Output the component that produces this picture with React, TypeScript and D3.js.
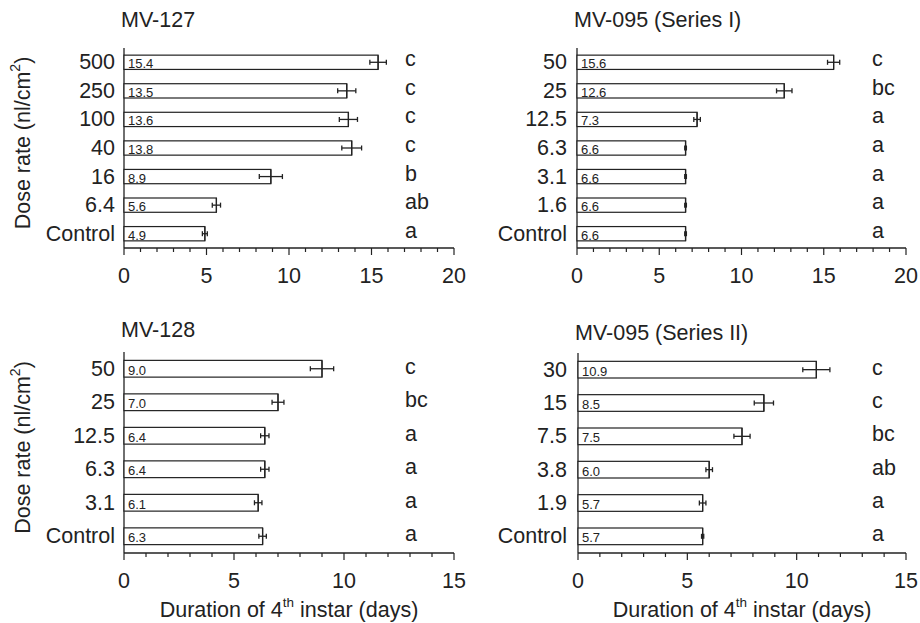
import React from "react";
import * as d3 from "d3";

// ---- data ----
const mv127Doses = ["500", "250", "100", "40", "16", "6.4", "Control"];
const mv127Means = [15.4, 13.5, 13.6, 13.8, 8.9, 5.6, 4.9];
const mv127Errors = [0.5, 0.55, 0.55, 0.6, 0.7, 0.25, 0.15];
const mv127Letters = ["c", "c", "c", "c", "b", "ab", "a"];

const mv095aDoses = ["50", "25", "12.5", "6.3", "3.1", "1.6", "Control"];
const mv095aMeans = [15.6, 12.6, 7.3, 6.6, 6.6, 6.6, 6.6];
const mv095aErrors = [0.37, 0.47, 0.2, 0.05, 0.05, 0.05, 0.05];
const mv095aLetters = ["c", "bc", "a", "a", "a", "a", "a"];

const mv128Doses = ["50", "25", "12.5", "6.3", "3.1", "Control"];
const mv128Means = [9.0, 7.0, 6.4, 6.4, 6.1, 6.3];
const mv128Errors = [0.53, 0.27, 0.19, 0.19, 0.17, 0.17];
const mv128Letters = ["c", "bc", "a", "a", "a", "a"];

const mv095bDoses = ["30", "15", "7.5", "3.8", "1.9", "Control"];
const mv095bMeans = [10.9, 8.5, 7.5, 6.0, 5.7, 5.7];
const mv095bErrors = [0.62, 0.44, 0.37, 0.15, 0.15, 0.05];
const mv095bLetters = ["c", "c", "bc", "ab", "a", "a"];

const topTicks = [0, 5, 10, 15, 20];
const bottomTicks = [0, 5, 10, 15];

const FONT = "'Liberation Sans', Arial, Helvetica, sans-serif";
const INK = "#222";
const FS = 21.5;

interface PanelProps {
  title: string;
  doses: string[];
  means: number[];
  errors: number[];
  letters: string[];
  xMax: number;
  majorTicks: number[];
  x0: number;
  x1: number;
  yTop: number;
  yBottom: number;
  labelX: number;
  letterX: number;
  titleY: number;
  letterDy: number;
  yTitle: boolean;
  xTitle: boolean;
}

function Panel(p: PanelProps) {
  const x = d3.scaleLinear().domain([0, p.xMax]).range([p.x0, p.x1]);
  const y = d3
    .scaleBand<string>()
    .domain(p.doses)
    .range([p.yTop, p.yBottom])
    .paddingInner(0.5)
    .paddingOuter(0.25);
  const minor = d3.range(0, p.xMax + 1, 1);
  const bh = y.bandwidth();
  const yMid = (p.yTop + p.yBottom) / 2;
  return (
    <g fontFamily={FONT} fill={INK}>
      <text x={p.x0 - 3} y={p.titleY} fontSize={FS} dominantBaseline="central">
        {p.title}
      </text>
      {/* axes */}
      <line x1={p.x0} x2={p.x0} y1={p.yTop} y2={p.yBottom} stroke={INK} strokeWidth={1.3} />
      <line x1={p.x0} x2={p.x1} y1={p.yBottom} y2={p.yBottom} stroke={INK} strokeWidth={1.3} />
      {minor.map((t) => (
        <line
          key={"m" + t}
          x1={x(t)}
          x2={x(t)}
          y1={p.yBottom}
          y2={p.yBottom + (p.majorTicks.includes(t) ? 7 : 4)}
          stroke={INK}
          strokeWidth={1.2}
        />
      ))}
      {p.majorTicks.map((t) => (
        <text
          key={"t" + t}
          x={x(t)}
          y={p.yBottom + 28}
          fontSize={FS}
          textAnchor="middle"
          dominantBaseline="central"
        >
          {t}
        </text>
      ))}
      {p.doses.map((d, i) => {
        const yc = (y(d) as number) + bh / 2;
        const v = p.means[i];
        const e = p.errors[i];
        return (
          <g key={d}>
            <rect
              x={x(0)}
              y={yc - bh / 2}
              width={x(v) - x(0)}
              height={bh}
              fill="#fff"
              stroke={INK}
              strokeWidth={1.2}
            />
            <line x1={x(v - e)} x2={x(v + e)} y1={yc} y2={yc} stroke={INK} strokeWidth={1.3} />
            <line x1={x(v - e)} x2={x(v - e)} y1={yc - 2.5} y2={yc + 2.5} stroke={INK} strokeWidth={1.3} />
            <line x1={x(v + e)} x2={x(v + e)} y1={yc - 2.5} y2={yc + 2.5} stroke={INK} strokeWidth={1.3} />
            <line x1={x(v)} x2={x(v)} y1={yc - bh / 2} y2={yc + bh / 2} stroke={INK} strokeWidth={1.3} />
            <text x={x(0) + 4} y={yc + 1.5} fontSize={13} dominantBaseline="central">
              {v.toFixed(1)}
            </text>
            <text x={p.labelX} y={yc} fontSize={FS} textAnchor="end" dominantBaseline="central">
              {d}
            </text>
            <text x={p.letterX} y={yc + p.letterDy} fontSize={FS} dominantBaseline="central">
              {p.letters[i]}
            </text>
          </g>
        );
      })}
      {p.yTitle && (
        <text
          transform={`translate(23,${yMid - 5}) rotate(-90)`}
          fontSize={FS}
          textAnchor="middle"
          dominantBaseline="central"
        >
          Dose rate (nl/cm<tspan fontSize={14} dy={-8}>2</tspan>
          <tspan dy={8}>)</tspan>
        </text>
      )}
      {p.xTitle && (
        <text
          x={(p.x0 + p.x1) / 2}
          y={p.yBottom + 57}
          fontSize={FS}
          textAnchor="middle"
          dominantBaseline="central"
        >
          Duration of 4<tspan fontSize={13.5} dy={-8}>th</tspan>
          <tspan dy={8}> instar (days)</tspan>
        </text>
      )}
    </g>
  );
}

export default function App() {
  return (
    <svg width={920} height={623} style={{ position: "absolute", left: 0, top: 0, background: "#fff" }}>
      <Panel
        title="MV-127"
        doses={mv127Doses}
        means={mv127Means}
        errors={mv127Errors}
        letters={mv127Letters}
        xMax={20}
        majorTicks={topTicks}
        x0={124}
        x1={454}
        yTop={48}
        yBottom={248}
        labelX={115}
        letterX={405}
        titleY={20}
        letterDy={-3}
        yTitle={true}
        xTitle={false}
      />
      <Panel
        title="MV-095 (Series I)"
        doses={mv095aDoses}
        means={mv095aMeans}
        errors={mv095aErrors}
        letters={mv095aLetters}
        xMax={20}
        majorTicks={topTicks}
        x0={577}
        x1={906}
        yTop={48}
        yBottom={248}
        labelX={567}
        letterX={872}
        titleY={20}
        letterDy={-3}
        yTitle={false}
        xTitle={false}
      />
      <Panel
        title="MV-128"
        doses={mv128Doses}
        means={mv128Means}
        errors={mv128Errors}
        letters={mv128Letters}
        xMax={15}
        majorTicks={bottomTicks}
        x0={124}
        x1={454}
        yTop={352}
        yBottom={553}
        labelX={115}
        letterX={405}
        titleY={330}
        letterDy={-2}
        yTitle={true}
        xTitle={true}
      />
      <Panel
        title="MV-095 (Series II)"
        doses={mv095bDoses}
        means={mv095bMeans}
        errors={mv095bErrors}
        letters={mv095bLetters}
        xMax={15}
        majorTicks={bottomTicks}
        x0={578}
        x1={906}
        yTop={353}
        yBottom={553}
        labelX={567}
        letterX={872}
        titleY={333}
        letterDy={-2}
        yTitle={false}
        xTitle={true}
      />
    </svg>
  );
}
